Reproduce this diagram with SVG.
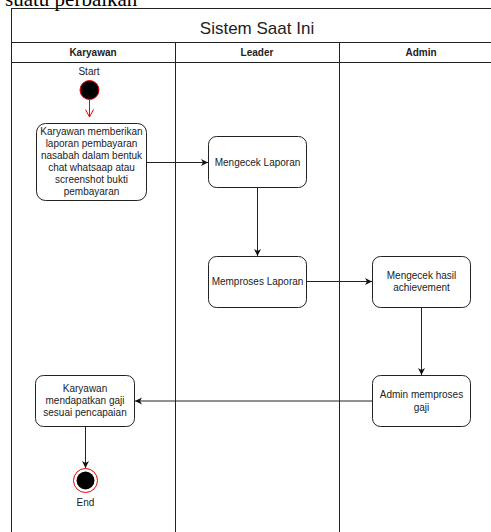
<svg xmlns="http://www.w3.org/2000/svg" width="491" height="532" viewBox="0 0 491 532">
<style>
.t{font-family:"Liberation Sans",Arial,sans-serif;font-size:10px;fill:#222;text-anchor:middle}
.h{font-family:"Liberation Sans",Arial,sans-serif;font-size:10px;font-weight:bold;fill:#222;text-anchor:middle}
.box{fill:#fff;stroke:#222;stroke-width:1}
.ln{stroke:#222;stroke-width:1;fill:none}
.c{stroke:#222;stroke-width:1;fill:none}
</style>
<defs>
<marker id="ah" markerWidth="8" markerHeight="8" refX="7" refY="4" orient="auto" markerUnits="userSpaceOnUse">
<path d="M0,0.5 L7,4 L0,7.5 L2,4 Z" fill="#111"/>
</marker>
<marker id="ar" markerWidth="10" markerHeight="10" refX="8" refY="4.5" orient="auto" markerUnits="userSpaceOnUse">
<path d="M0.5,0.5 L8,4.5 L0.5,8.5" fill="none" stroke="#e00" stroke-width="1"/>
</marker>
</defs>
<rect width="491" height="532" fill="#fff"/>
<text x="5" y="6" style="font-family:'Liberation Serif','Times New Roman',serif;font-size:21px;fill:#000">suatu perbaikan</text>
<g id="pool">
<rect x="11.5" y="8.5" width="492" height="540" class="ln"/>
<line x1="11.5" y1="42.5" x2="503" y2="42.5" class="ln"/>
<line x1="11.5" y1="62.5" x2="503" y2="62.5" class="ln" stroke="#555"/>
<line x1="175.5" y1="42.5" x2="175.5" y2="532" class="ln"/>
<line x1="339.5" y1="42.5" x2="339.5" y2="532" class="ln"/>
<text x="257" y="34" class="t" style="font-size:17px">Sistem Saat Ini</text>
<text x="93" y="56" class="h">Karyawan</text>
<text x="257" y="56" class="h">Leader</text>
<text x="421" y="56" class="h">Admin</text>
</g>
<g id="start">
<text x="89" y="75" class="t">Start</text>
<circle cx="89.5" cy="90" r="9.5" fill="#000" stroke="#e00" stroke-width="1"/>
</g>
<g id="n1">
<rect x="36.5" y="123.5" width="110" height="77" rx="9" class="box"/>
<text class="t"><tspan x="91.5" y="135">Karyawan memberikan</tspan><tspan x="91.5" y="147">laporan pembayaran</tspan><tspan x="91.5" y="159">nasabah dalam bentuk</tspan><tspan x="91.5" y="171">chat whatsaap atau</tspan><tspan x="91.5" y="183">screenshot bukti</tspan><tspan x="91.5" y="195">pembayaran</tspan></text>
</g>
<g id="n2">
<rect x="208.5" y="136.5" width="98" height="51" rx="8" class="box"/>
<text x="257.5" y="165.5" class="t">Mengecek Laporan</text>
</g>
<g id="n3">
<rect x="208.5" y="256.5" width="98" height="51" rx="8" class="box"/>
<text x="257.5" y="285" class="t">Memproses Laporan</text>
</g>
<g id="n4">
<rect x="372.5" y="256.5" width="98" height="51" rx="8" class="box"/>
<text class="t"><tspan x="421.5" y="278.5">Mengecek hasil</tspan><tspan x="421.5" y="290.5">achievement</tspan></text>
</g>
<g id="n5">
<rect x="372.5" y="375.5" width="98" height="51" rx="8" class="box"/>
<text class="t"><tspan x="421.5" y="398">Admin memproses</tspan><tspan x="421.5" y="411">gaji</tspan></text>
</g>
<g id="n6">
<rect x="35.5" y="375.5" width="99" height="51" rx="8" class="box"/>
<text class="t"><tspan x="85" y="391.5">Karyawan</tspan><tspan x="85" y="404">mendapatkan gaji</tspan><tspan x="85" y="416">sesuai pencapaian</tspan></text>
</g>
<g id="end">
<circle cx="85.5" cy="480.5" r="12" fill="#fff" stroke="#e00" stroke-width="1"/>
<circle cx="85.5" cy="480.5" r="9" fill="#000"/>
<text x="85.5" y="506" class="t">End</text>
</g>
<g id="connectors">
<line x1="89.5" y1="100" x2="89.5" y2="117" stroke="#e00" stroke-width="1" marker-end="url(#ar)"/>
<line x1="146.5" y1="162.5" x2="208" y2="162.5" class="c" marker-end="url(#ah)"/>
<line x1="257.5" y1="187.5" x2="257.5" y2="256" class="c" marker-end="url(#ah)"/>
<line x1="306.5" y1="281.5" x2="372" y2="281.5" class="c" marker-end="url(#ah)"/>
<line x1="421.5" y1="307.5" x2="421.5" y2="375" class="c" marker-end="url(#ah)"/>
<line x1="372.5" y1="401" x2="135" y2="401" class="c" marker-end="url(#ah)"/>
<line x1="85.5" y1="426.5" x2="85.5" y2="468" class="c" marker-end="url(#ah)"/>
</g>
</svg>
